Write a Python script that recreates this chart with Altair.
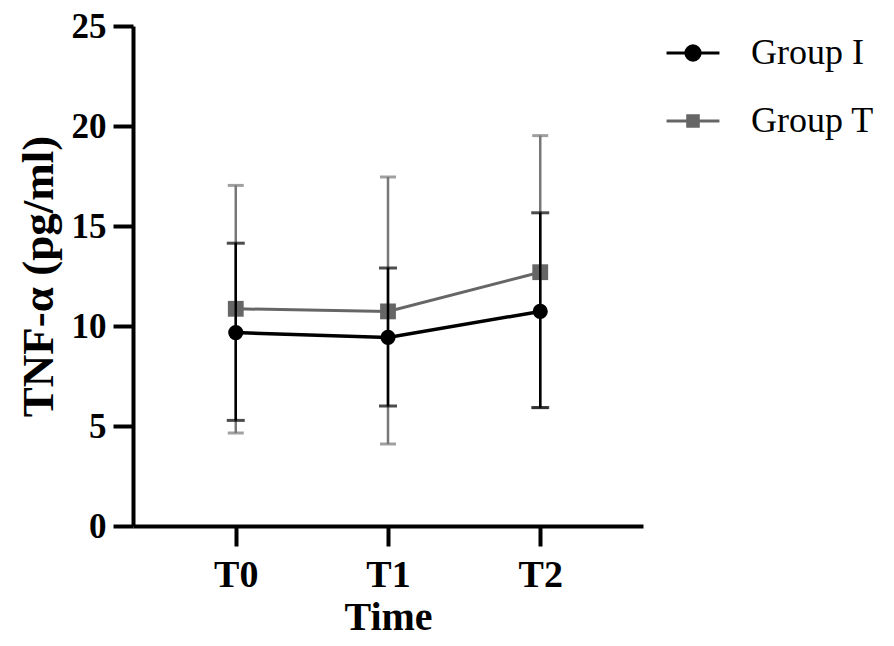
import altair as alt
import pandas as pd

times = ["T0", "T1", "T2"]
groups = ["Group I", "Group T"]

group_i_mean = [9.67, 9.43, 10.73]
group_i_low = [5.28, 6.0, 5.92]
group_i_high = [14.14, 12.9, 15.66]

group_t_mean = [10.86, 10.73, 12.69]
group_t_low = [4.65, 4.1, 5.92]
group_t_high = [17.03, 17.45, 19.52]

BLACK = "#000000"
GREY_LINE = "#666666"
GREY_BAR = "#777777"
FONT = "Liberation Serif"

rows = []
for g, means, lows, highs in [
    ("Group I", group_i_mean, group_i_low, group_i_high),
    ("Group T", group_t_mean, group_t_low, group_t_high),
]:
    for t, m, lo, hi in zip(times, means, lows, highs):
        rows.append({"Time": t, "Group": g, "mean": m, "low": lo, "high": hi})
df = pd.DataFrame(rows)

axis_common = dict(tickSize=20, tickWidth=4, domainWidth=4, domainColor="black", tickColor="black",
                   labelColor="black", titleColor="black", labelFont=FONT, titleFont=FONT,
                   labelFontWeight="bold", titleFontWeight="bold", grid=False)
x_axis = alt.Axis(title="Time", labelAngle=0, labelFontSize=38, labelPadding=10,
                  titleFontSize=40, titlePadding=3, **axis_common)
y_axis = alt.Axis(title="TNF-α (pg/ml)", values=[0, 5, 10, 15, 20, 25], labelFontSize=35,
                  labelPadding=7, titleFontSize=45, titlePadding=10, **axis_common)
x_scale = alt.Scale(type="point", padding=0.675, domain=times)
y_scale = alt.Scale(domain=[0, 25], nice=False, zero=True)


def X():
    return alt.X("Time:N", scale=x_scale, axis=x_axis, sort=times)


def Y(field):
    return alt.Y(f"{field}:Q", scale=y_scale, axis=y_axis)


def group_layers(g, line_color, bar_color, shape, msize, lw, cap):
    base = alt.Chart(df).transform_filter(alt.datum.Group == g)
    bars = base.mark_rule(color=bar_color, strokeWidth=2.5).encode(
        x=X(), y=Y("low"), y2=alt.Y2("high:Q"))
    cap_lo = base.mark_tick(color=bar_color, thickness=3, size=cap).encode(x=X(), y=Y("low"))
    cap_hi = base.mark_tick(color=bar_color, thickness=3, size=cap).encode(x=X(), y=Y("high"))
    line = base.mark_line(color=line_color, strokeWidth=lw).encode(x=X(), y=Y("mean"))
    pts = base.mark_point(shape=shape, filled=True, size=msize, color=line_color, opacity=1).encode(
        x=X(), y=Y("mean"))
    return [bars, cap_lo, cap_hi, line, pts]


circle_path = "M-1,0H1M-0.27,0A0.27,0.27 0 1,0 0.27,0A0.27,0.27 0 1,0 -0.27,0Z"
square_path = "M-1,0H1M-0.2,-0.2H0.2V0.2H-0.2Z"

legend_def = alt.Legend(title=None, orient="none", legendX=532, legendY=-1, padding=0,
                        labelFontSize=36, labelFont=FONT, labelFontWeight="normal",
                        labelColor="black", labelOffset=30, rowPadding=22,
                        symbolSize=2800, symbolStrokeWidth=3)

legend_layer = alt.Chart(df).transform_filter("false").mark_point(
    filled=True, size=2800, strokeWidth=3, opacity=1).encode(
    x=X(), y=Y("mean"),
    fill=alt.Fill("Group:N", scale=alt.Scale(domain=groups, range=[BLACK, GREY_LINE]), legend=legend_def),
    stroke=alt.Stroke("Group:N", scale=alt.Scale(domain=groups, range=[BLACK, GREY_LINE]), legend=legend_def),
    shape=alt.Shape("Group:N", scale=alt.Scale(domain=groups, range=[circle_path, square_path]), legend=legend_def),
)

layers = (group_layers("Group T", GREY_LINE, GREY_BAR, "square", 250, 3, 16)
          + group_layers("Group I", BLACK, BLACK, "circle", 230, 3.5, 18)
          + [legend_layer])

chart = alt.layer(*layers).properties(
    width=510, height=500,
    background="white",
    autosize=alt.AutoSizeParams(type="none"),
    padding={"left": 125, "top": 18, "right": 240, "bottom": 112},
).configure_view(stroke=None)

chart.save("out.html", embed_options={"renderer": "svg", "actions": False})
